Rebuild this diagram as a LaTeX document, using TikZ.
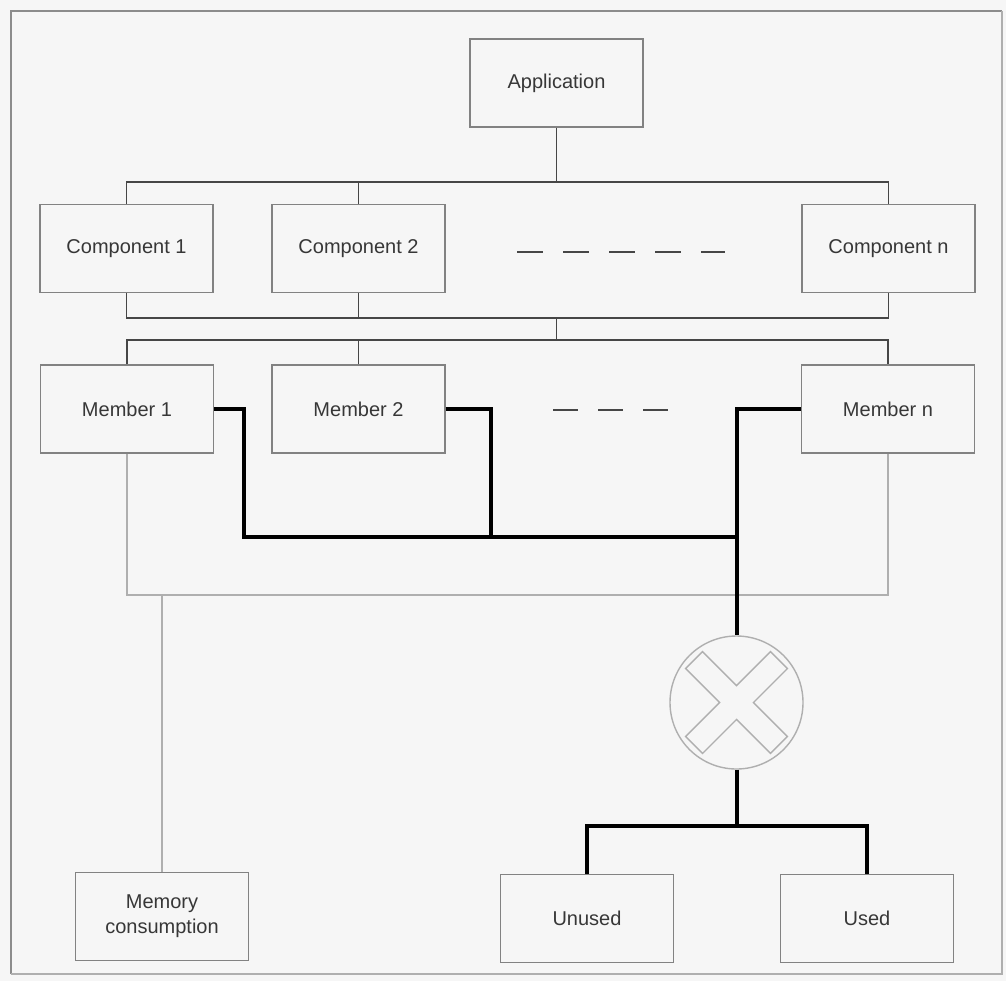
\documentclass[tikz,border=0pt]{standalone}
\usepackage{fontspec}
\setmainfont{Liberation Sans}
\definecolor{bgfill}{RGB}{246,246,246}
\definecolor{framegray}{RGB}{140,140,140}
\definecolor{boxgray}{RGB}{130,130,130}
\definecolor{linegray}{RGB}{70,70,70}
\definecolor{palegray}{RGB}{175,175,175}
\definecolor{textgray}{RGB}{55,55,55}
\begin{document}
\begin{tikzpicture}[x=0.5pt,y=-0.5pt,
  box/.style={draw=boxgray, line width=0.7pt, fill=bgfill, minimum width=86.5pt,
    minimum height=44pt, inner sep=0pt, text=textgray, align=center,
    font=\fontsize{10}{12.5}\selectfont},
  wire/.style={draw=linegray, line width=0.8pt},
  heavy/.style={draw=black, line width=2pt},
  pale/.style={draw=palegray, line width=0.7pt},
  gapline/.style={draw=linegray, line width=0.8pt}]
  % canvas and outer frame
  \fill[bgfill] (0,0) rectangle (1006,981);
  \useasboundingbox (0,0) rectangle (1006,981);
  \draw[framegray, line width=0.9pt] (11,974) -- (11,11) -- (1002,11);
  \draw[palegray, line width=0.9pt] (1002,11) -- (1002,974) -- (11,974);

  % boxes
  \node[box] (app) at (556.5,83) {Application};
  \node[box] (c1) at (126.5,248.5) {Component 1};
  \node[box] (c2) at (358.5,248.5) {Component 2};
  \node[box] (cn) at (888.5,248.5) {Component n};
  \node[box] (m1) at (127,409) {Member 1};
  \node[box] (m2) at (358.5,409) {Member 2};
  \node[box] (mn) at (888,409) {Member n};
  \node[box] (mem) at (162,916.5) {Memory\\consumption};
  \node[box] (unused) at (587,918.5) {Unused};
  \node[box] (used) at (867,918.5) {Used};
  \node[draw=palegray, line width=0.7pt, circle, minimum size=66.5pt, inner sep=0pt] (sw) at (736.5,702.5) {};

  % outlined cross inside the switch circle
  \begin{scope}[shift={(sw.center)}, rotate=45]
    \draw[palegray, line width=0.7pt]
      (12,60) -- (12,12) -- (60,12) -- (60,-12) -- (12,-12) -- (12,-60) --
      (-12,-60) -- (-12,-12) -- (-60,-12) -- (-60,12) -- (-12,12) -- (-12,60) -- cycle;
  \end{scope}

  % tree: application to components
  \coordinate (busT) at (556.5,182);
  \draw[wire] (app.south) -- (busT);
  \draw[wire] (c1.north) |- (busT) -| (cn.north);
  \draw[wire] (c2.north) -- (c2.north |- busT);

  % components to members
  \coordinate (busM) at (556.5,318);
  \coordinate (busB) at (556.5,340);
  \draw[wire] (c1.south) |- (busM) -| (cn.south);
  \draw[wire] (c2.south) -- (c2.south |- busM);
  \draw[wire] (busM) -- (busB);
  \draw[wire] (m1.north) |- (busB) -| (mn.north);
  \draw[wire] (m2.north) -- (m2.north |- busB);

  % omitted elements
  \draw[gapline, dash pattern=on 13pt off 10pt] (517,252) -- (725,252);
  \draw[gapline, dash pattern=on 12.5pt off 10pt] (553,410) -- (668,410);

  % members grouped for memory consumption
  \coordinate (grp) at (888,595);
  \draw[pale] (m1.south) |- (grp) -- (mn.south);
  \draw[pale] (mem.north) -- (mem.north |- grp);

  % member outputs joined into the switch
  \coordinate (k1) at (244,537);
  \coordinate (k2) at (491,537);
  \coordinate (J) at (736.5,537);
  \draw[heavy] (m1.east) -| (k1) -- (J);
  \draw[heavy] (m2.east) -| (k2);
  \draw[heavy] (mn.west) -| (J) -- (sw.north);

  % switch to used / unused
  \coordinate (J2) at (736.5,826);
  \draw[heavy] (sw.south) -- (J2);
  \draw[heavy] (unused.north) |- (J2) -| (used.north);
\end{tikzpicture}
\end{document}
